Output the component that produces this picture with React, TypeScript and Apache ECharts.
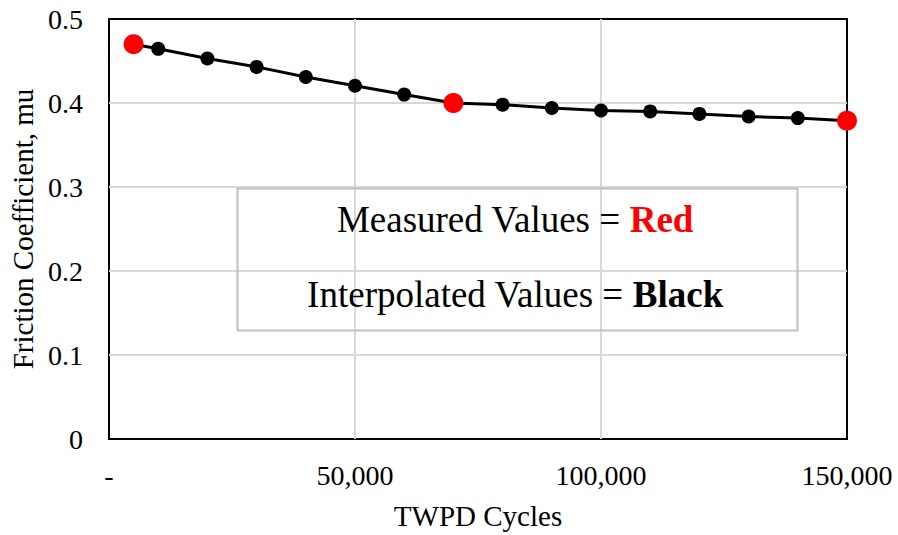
import React, { useEffect, useRef } from "react";
import * as echarts from "echarts";

// Friction coefficient against TWPD cycles
const cycles = [5000, 10000, 20000, 30000, 40000, 50000, 60000, 70000, 80000, 90000, 100000, 110000, 120000, 130000, 140000, 150000];
const friction = [0.47, 0.4645, 0.453, 0.443, 0.431, 0.4206, 0.41, 0.4, 0.398, 0.394, 0.391, 0.39, 0.387, 0.384, 0.382, 0.379];
// Cycle counts where the coefficient was measured (the rest are interpolated)
const measuredCycles = [5000, 70000, 150000];

const xTicks = [0, 50000, 100000, 150000];
const yTicks = [0, 0.1, 0.2, 0.3, 0.4, 0.5];

const FONT = "Liberation Serif";

export default function App() {
  const ref = useRef<HTMLDivElement>(null);

  useEffect(() => {
    document.body.style.margin = "0";
    if (!ref.current) return;
    const chart = echarts.init(ref.current, null, { renderer: "svg" });

    const allPoints = cycles.map((c, i) => [c, friction[i]]);
    const measuredPoints = allPoints.filter((p) => measuredCycles.includes(p[0]));

    chart.setOption({
      animation: false,
      backgroundColor: "#fff",
      textStyle: { fontFamily: FONT },
      grid: {
        left: 108,
        top: 19,
        right: 51,
        bottom: 94,
        show: true,
        borderColor: "#000",
        borderWidth: 2,
        backgroundColor: "transparent",
      },
      xAxis: {
        type: "value",
        min: xTicks[0],
        max: xTicks[xTicks.length - 1],
        interval: xTicks[1] - xTicks[0],
        name: "TWPD Cycles",
        nameLocation: "middle",
        nameGap: 62,
        nameTextStyle: { fontFamily: FONT, fontSize: 29, color: "#000" },
        axisLine: { show: false },
        axisTick: { show: false },
        axisLabel: {
          fontFamily: FONT,
          fontSize: 28,
          color: "#000",
          margin: 22,
          formatter: (v: number) => (v === 0 ? "-" : v.toLocaleString("en-US")),
        },
        splitLine: {
          show: true,
          showMinLine: false,
          showMaxLine: false,
          lineStyle: { color: "#d9d9d9", width: 2 },
        },
      },
      yAxis: {
        type: "value",
        min: yTicks[0],
        max: yTicks[yTicks.length - 1],
        interval: 0.1,
        name: "Friction Coefficient, mu",
        nameLocation: "middle",
        nameGap: 72,
        nameTextStyle: { fontFamily: FONT, fontSize: 29, color: "#000" },
        axisLine: { show: false },
        axisTick: { show: false },
        axisLabel: {
          fontFamily: FONT,
          fontSize: 28,
          color: "#000",
          margin: 26,
          formatter: (v: number) => String(Math.round(v * 10) / 10),
        },
        splitLine: {
          show: true,
          showMinLine: false,
          showMaxLine: false,
          lineStyle: { color: "#d9d9d9", width: 2 },
        },
      },
      series: [
        {
          name: "Interpolated",
          type: "line",
          data: allPoints,
          symbol: "circle",
          symbolSize: 14,
          itemStyle: { color: "#000", opacity: 1 },
          lineStyle: { color: "#000", width: 3 },
          clip: false,
          z: 3,
        },
        {
          name: "Measured",
          type: "scatter",
          data: measuredPoints,
          symbol: "circle",
          symbolSize: 20,
          itemStyle: { color: "#ff0000", opacity: 1 },
          clip: false,
          z: 4,
        },
      ],
      graphic: [
        {
          type: "rect",
          left: 235,
          top: 186,
          shape: { width: 560, height: 142 },
          style: { fill: "none", stroke: "#bfbfbf", lineWidth: 2 },
          z: 10,
        },
        {
          type: "text",
          x: 515,
          y: 219,
          style: {
            text: "Measured Values = {r|Red}",
            align: "center",
            verticalAlign: "middle",
            fontFamily: FONT,
            fontSize: 37,
            fill: "#000",
            rich: {
              r: { fontFamily: FONT, fontSize: 37, fontWeight: "bold", fill: "#ff0000", color: "#ff0000" },
            },
          },
          z: 10,
        },
        {
          type: "text",
          x: 515,
          y: 294,
          style: {
            text: "Interpolated Values = {b|Black}",
            align: "center",
            verticalAlign: "middle",
            fontFamily: FONT,
            fontSize: 37,
            fill: "#000",
            rich: {
              b: { fontFamily: FONT, fontSize: 37, fontWeight: "bold", fill: "#000", color: "#000" },
            },
          },
          z: 10,
        },
      ],
    });

    return () => chart.dispose();
  }, []);

  return <div ref={ref} style={{ width: 898, height: 535 }} />;
}
